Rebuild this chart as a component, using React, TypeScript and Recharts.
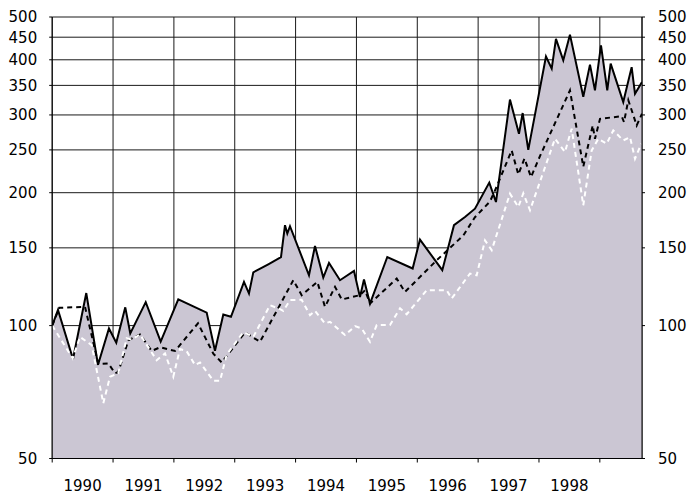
import React from 'react';
import { ComposedChart, Area, Line, XAxis, YAxis, CartesianGrid } from 'recharts';

// Solid line (filled area)
const solidT = [1990.0, 1990.095, 1990.342, 1990.56, 1990.753, 1990.933, 1991.053, 1991.201, 1991.283, 1991.537, 1991.783, 1992.072, 1992.539, 1992.675, 1992.812, 1992.938, 1993.152, 1993.234, 1993.305, 1993.551, 1993.76, 1993.826, 1993.864, 1993.908, 1994.22, 1994.319, 1994.455, 1994.549, 1994.73, 1994.96, 1995.058, 1995.124, 1995.223, 1995.507, 1995.924, 1996.044, 1996.411, 1996.603, 1996.784, 1996.948, 1997.183, 1997.293, 1997.523, 1997.671, 1997.732, 1997.824, 1998.115, 1998.209, 1998.279, 1998.399, 1998.509, 1998.728, 1998.838, 1998.92, 1999.019, 1999.122, 1999.178, 1999.385, 1999.523, 1999.578, 1999.693];
const solidV = [100, 108.5, 84, 118.5, 81.5, 98.5, 91.5, 110, 96, 113, 92, 114.7, 107, 87.7, 106, 104.7, 125.6, 118.2, 132, 137.7, 143, 168.8, 161.6, 167.9, 130, 151.5, 128.5, 138.7, 126.7, 133, 116, 127.2, 112.2, 143, 134.7, 156.6, 133.5, 168.8, 176.2, 184, 210.8, 190.5, 325, 272, 303, 250, 407, 382, 446, 399, 456, 330, 390, 341, 431, 341, 392, 321, 385, 335, 356];

// Black dashed line
const blackT = [1990.0, 1990.117, 1990.539, 1990.758, 1990.922, 1991.032, 1991.086, 1991.251, 1991.443, 1991.635, 1991.772, 1992.018, 1992.396, 1992.648, 1992.786, 1993.169, 1993.415, 1993.962, 1994.1, 1994.357, 1994.483, 1994.648, 1994.758, 1995.058, 1995.141, 1995.223, 1995.662, 1995.798, 1996.319, 1996.756, 1996.948, 1997.195, 1997.315, 1997.551, 1997.66, 1997.762, 1997.869, 1998.016, 1998.509, 1998.728, 1998.883, 1998.92, 1999.003, 1999.359, 1999.397, 1999.468, 1999.606, 1999.693];
const blackV = [100, 109.7, 110.3, 81.8, 82.1, 78, 78.5, 92.6, 95.5, 87.6, 89.3, 87.6, 101.2, 86.4, 82.5, 96.5, 91.9, 126.7, 117.2, 125.6, 110.3, 122.4, 114.6, 117.2, 120.2, 112.2, 127.8, 119.2, 140.6, 160, 176, 191, 208, 249.3, 220, 239, 217, 242, 341, 229, 284, 265, 294, 298, 289, 324, 284, 302];

// White dashed line
const whiteT = [1990.0, 1990.337, 1990.457, 1990.649, 1990.84, 1990.95, 1991.086, 1991.224, 1991.307, 1991.443, 1991.717, 1991.854, 1991.99, 1992.1, 1992.21, 1992.347, 1992.429, 1992.648, 1992.758, 1992.868, 1993.141, 1993.305, 1993.579, 1993.744, 1993.798, 1993.908, 1994.1, 1994.237, 1994.319, 1994.483, 1994.565, 1994.812, 1994.976, 1995.086, 1995.223, 1995.333, 1995.551, 1995.716, 1995.826, 1996.155, 1996.483, 1996.565, 1996.866, 1996.976, 1997.113, 1997.223, 1997.523, 1997.66, 1997.742, 1997.852, 1998.263, 1998.427, 1998.537, 1998.728, 1998.866, 1998.975, 1999.113, 1999.221, 1999.385, 1999.496, 1999.578, 1999.682];
const whiteV = [100, 84.3, 94.3, 90.3, 66.7, 76.6, 78, 93.6, 93, 95.5, 83.5, 86.5, 76.6, 88.5, 87.5, 81.4, 82.5, 75, 75, 86, 96.6, 94.3, 111.2, 109, 108, 114.2, 114.4, 105.6, 108, 101.1, 102, 95.2, 99.7, 98.5, 91.9, 100.3, 100.3, 109.4, 106.1, 120.3, 120.3, 115.2, 131.2, 130, 156, 148.2, 199, 185.6, 199.3, 182.5, 265, 247.3, 279.2, 187.3, 249.3, 265, 258.3, 276.8, 262.7, 267.3, 238.8, 258.3];

const yTicks = [50, 100, 150, 200, 250, 300, 350, 400, 450, 500];
const yearTicks = [1990, 1991, 1992, 1993, 1994, 1995, 1996, 1997, 1998, 1999];
const yearLabels = ['1990', '1991', '1992', '1993', '1994', '1995', '1996', '1997', '1998'];
const xDomain: [number, number] = [1990, 1999.693];

const rows = (t: number[], v: number[]) => t.map((x, i) => ({ t: x, v: v[i] }));
const solidData = rows(solidT, solidV);
const blackData = rows(blackT, blackV);
const whiteData = rows(whiteT, whiteV);
const labelTicks = yearLabels.map((y) => Number(y) + 0.5);

const FONT = '"DejaVu Sans", sans-serif';
const tickStyle = { fill: '#000', fontSize: 15, fontFamily: FONT };

export default function App() {
  return (
    <div style={{ position: 'absolute', left: 0, top: 0, width: 692, height: 496, background: '#fff' }}>
      <ComposedChart width={692} height={496} margin={{ top: 17, right: 0, bottom: 0, left: 0 }}>
        <CartesianGrid xAxisId="a" yAxisId="L" stroke="#1a1a1a" strokeWidth={1} />
        <XAxis
          xAxisId="b"
          dataKey="t"
          type="number"
          domain={xDomain}
          allowDataOverflow
          ticks={labelTicks}
          tickFormatter={(v: number) => String(Math.floor(v))}
          height={33.5}
          tickSize={0}
          tickMargin={18}
          axisLine={false}
          tickLine={false}
          tick={tickStyle}
          interval={0}
        />
        <XAxis
          xAxisId="a"
          dataKey="t"
          type="number"
          domain={xDomain}
          allowDataOverflow
          ticks={yearTicks}
          tickFormatter={() => ''}
          height={4}
          tickSize={4}
          stroke="#000"
          tick={tickStyle}
          interval={0}
        />
        <YAxis
          yAxisId="L"
          type="number"
          scale="log"
          domain={[50, 500]}
          allowDataOverflow
          ticks={yTicks}
          interval={0}
          width={52.2}
          tickSize={3}
          tickMargin={12}
          stroke="#000"
          tick={tickStyle}
        />
        <YAxis
          yAxisId="R"
          orientation="right"
          type="number"
          scale="log"
          domain={[50, 500]}
          allowDataOverflow
          ticks={yTicks}
          interval={0}
          width={50}
          tickSize={3}
          tickMargin={13}
          stroke="#000"
          tick={tickStyle}
        />
        <Area
          xAxisId="a"
          yAxisId="L"
          data={solidData}
          dataKey="v"
          type="linear"
          baseValue={50}
          stroke="#000"
          strokeWidth={2}
          fill="#cbc6d3"
          fillOpacity={1}
          dot={false}
          activeDot={false}
          isAnimationActive={false}
        />
        <Line
          xAxisId="a"
          yAxisId="L"
          data={blackData}
          dataKey="v"
          type="linear"
          stroke="#000"
          strokeWidth={2}
          strokeDasharray="5 4"
          dot={false}
          activeDot={false}
          isAnimationActive={false}
        />
        <Line
          xAxisId="a"
          yAxisId="L"
          data={whiteData}
          dataKey="v"
          type="linear"
          stroke="#fff"
          strokeWidth={2}
          strokeDasharray="5 4"
          dot={false}
          activeDot={false}
          isAnimationActive={false}
        />
      </ComposedChart>
    </div>
  );
}
